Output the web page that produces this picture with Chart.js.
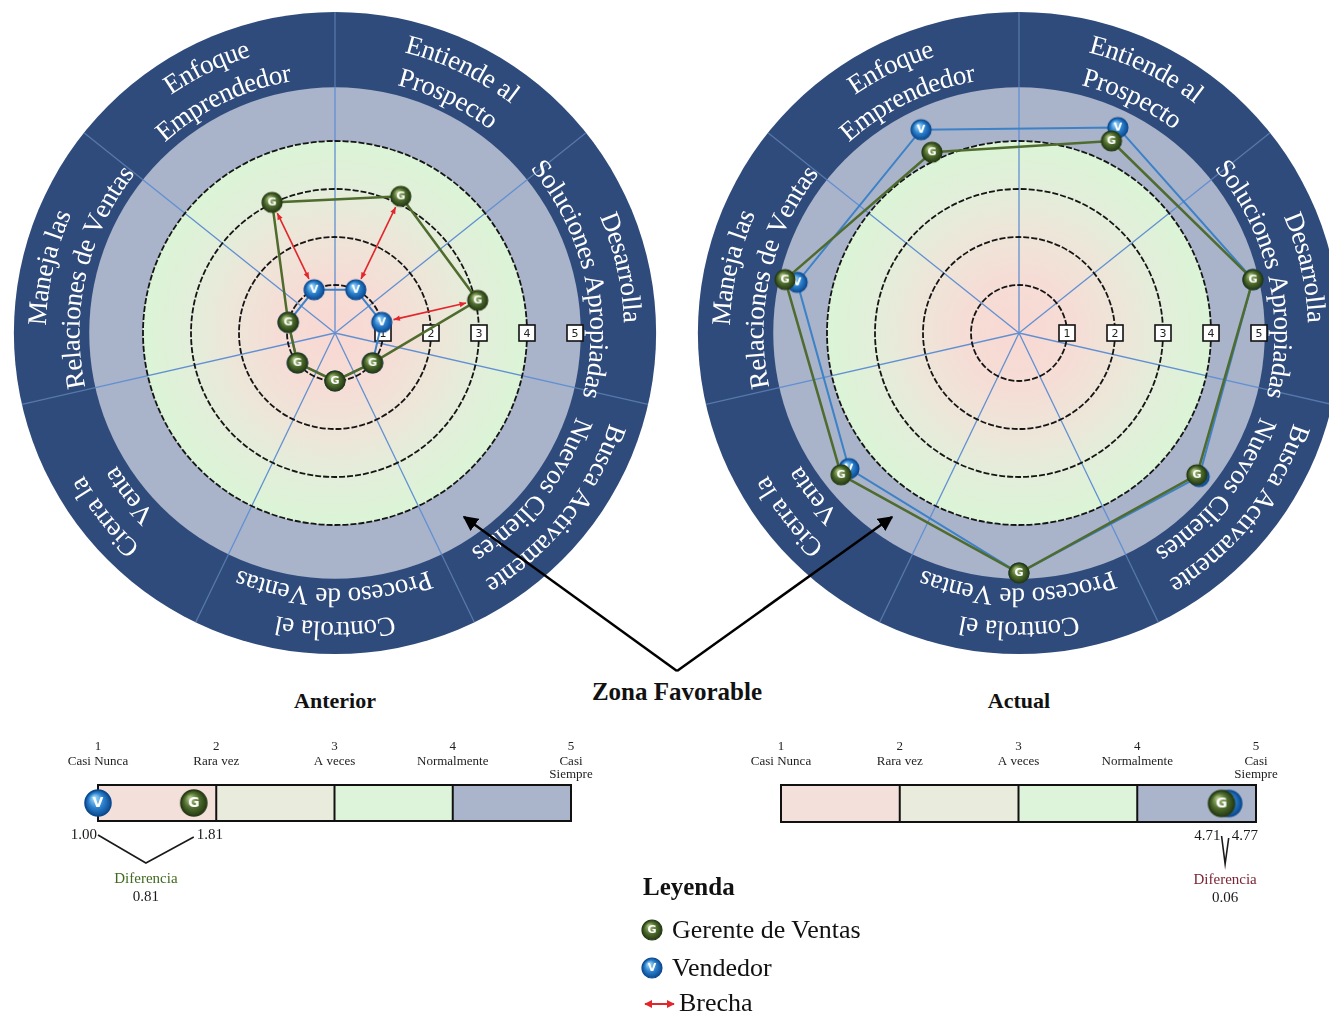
<!DOCTYPE html>
<html lang="es">
<head>
<meta charset="utf-8">
<title>Anterior / Actual</title>
<script src="https://cdn.jsdelivr.net/npm/chart.js@4.4.1/dist/chart.umd.min.js"></script>
<style>
  html, body { margin: 0; padding: 0; background: #fff; }
  body { width: 1329px; height: 1016px; position: relative; overflow: hidden; font-family: "Liberation Serif", serif; color: #111; }
  canvas, .txt, svg { position: absolute; }
  #radarAnterior { left: 0; top: 0; }
  #radarActual { left: 684px; top: 0; }
  #barraAnterior { left: 40px; top: 730px; }
  #barraActual { left: 730px; top: 730px; }
  .txt { white-space: nowrap; transform: translate(-50%, -50%); }
  .negrita { font-weight: bold; }
  .izq { transform: translate(0, -50%); }
  svg { left: 0; top: 0; pointer-events: none; }
</style>
</head>
<body>
<canvas id="radarAnterior" width="670" height="666"></canvas>
<canvas id="radarActual" width="645" height="666"></canvas>
<canvas id="barraAnterior" width="580" height="190"></canvas>
<canvas id="barraActual" width="599" height="190"></canvas>

<div class="txt negrita" style="left:335px; top:701px; font-size:22px;">Anterior</div>
<div class="txt negrita" style="left:1019px; top:701px; font-size:22px;">Actual</div>
<div class="txt negrita" style="left:677px; top:692px; font-size:25px;">Zona Favorable</div>

<div class="txt negrita izq" style="left:643px; top:887px; font-size:25px;">Leyenda</div>
<div class="txt izq" style="left:672px; top:930px; font-size:26px;">Gerente de Ventas</div>
<div class="txt izq" style="left:672px; top:968px; font-size:26px;">Vendedor</div>
<div class="txt izq" style="left:679px; top:1003px; font-size:26px;">Brecha</div>

<svg width="1329" height="1016">
  <defs>
    <marker id="punta" viewBox="0 0 10 10" refX="9" refY="5" markerWidth="6" markerHeight="6" orient="auto">
      <path d="M0,0 L10,5 L0,10 z" fill="#000"/>
    </marker>
    <marker id="puntaRoja" viewBox="0 0 10 10" refX="9" refY="5" markerWidth="4" markerHeight="4" orient="auto-start-reverse">
      <path d="M0,0 L10,5 L0,10 z" fill="#e3262b"/>
    </marker>
  </defs>
  <line x1="677" y1="671" x2="464" y2="517" stroke="#000" stroke-width="2.5" marker-end="url(#punta)"/>
  <line x1="677" y1="671" x2="892" y2="517" stroke="#000" stroke-width="2.5" marker-end="url(#punta)"/>
  <line x1="645" y1="1004" x2="674" y2="1004" stroke="#e3262b" stroke-width="2" marker-start="url(#puntaRoja)" marker-end="url(#puntaRoja)"/>
</svg>

<script>
// competencias, en el orden de las agujas del reloj
const competencias = [
    ['Entiende al', 'Prospecto'],
    ['Desarrolla', 'Soluciones Apropiadas'],
    ['Busca Activamente', 'Nuevos Clientes'],
    ['Controla el', 'Proceso de Ventas'],
    ['Cierra la', 'Venta'],
    ['Maneja las', 'Relaciones de Ventas'],
    ['Enfoque', 'Emprendedor']
];

const gerenteAnterior = [3.16, 3.05, 1.0, 1.0, 1.0, 1.0, 3.02];
const vendedorAnterior = [1.0, 1.0, 1.0, 1.0, 1.0, 1.0, 1.0];
const gerenteActual = [4.44, 5.0, 4.74, 5.0, 4.74, 5.0, 4.18];
const vendedorActual = [4.75, 5.0, 4.8, 5.0, 4.53, 4.74, 4.7];

// promedios mostrados en las barras de abajo
const promedioGerente = [1.81, 4.71];
const promedioVendedor = [1.00, 4.77];

const nivelesEscala = [1, 2, 3, 4, 5];
const nombresNivel = [['Casi Nunca'], ['Rara vez'], ['A veces'], ['Normalmente'], ['Casi', 'Siempre']];

const coloresNivel = ['#f4e0da', '#e9ebdc', '#ddf3da', '#aab4ca'];

function crearMarca(letra, oscuro, medio, claro, r) {
    const c = document.createElement('canvas');
    const t = Math.ceil(r * 2 + 4);
    c.width = t;
    c.height = t;
    const g = c.getContext('2d');
    const m = t / 2;
    const grad = g.createRadialGradient(m - r * 0.3, m - r * 0.4, r * 0.1, m, m, r);
    grad.addColorStop(0, claro);
    grad.addColorStop(0.55, medio);
    grad.addColorStop(1, oscuro);
    g.beginPath();
    g.arc(m, m, r, 0, Math.PI * 2);
    g.fillStyle = grad;
    g.fill();
    g.lineWidth = Math.max(1, r * 0.12);
    g.strokeStyle = oscuro;
    g.stroke();
    g.fillStyle = '#fff';
    g.font = 'bold ' + Math.round(r * 1.1) + 'px "DejaVu Sans"';
    g.textAlign = 'center';
    g.textBaseline = 'middle';
    g.fillText(letra, m, m + r * 0.05);
    return c;
}

function marcaG(r) { return crearMarca('G', '#263a14', '#4f6d2e', '#a7bf7c', r); }
function marcaV(r) { return crearMarca('V', '#0c4a90', '#2a7fcc', '#9ad6f7', r); }

function circulo(ctx, x, y, r, color) {
    ctx.beginPath();
    ctx.arc(x, y, r, 0, Math.PI * 2);
    ctx.fillStyle = color;
    ctx.fill();
}

// escribe el texto sobre un arco, en sentido horario y con la parte de arriba hacia fuera
function textoCurvo(ctx, txt, cx, cy, r, angulo) {
    const total = ctx.measureText(txt).width;
    let a = angulo - total / 2 / r;
    for (const ch of txt) {
        const w = ctx.measureText(ch).width;
        const m = a + w / 2 / r;
        ctx.save();
        ctx.translate(cx + r * Math.sin(m), cy - r * Math.cos(m));
        ctx.rotate(m);
        ctx.fillText(ch, 0, 0);
        ctx.restore();
        a += w / r;
    }
}

function flechaDoble(ctx, x1, y1, x2, y2, recorte, color) {
    const ang = Math.atan2(y2 - y1, x2 - x1);
    const ax = x1 + Math.cos(ang) * recorte, ay = y1 + Math.sin(ang) * recorte;
    const bx = x2 - Math.cos(ang) * recorte, by = y2 - Math.sin(ang) * recorte;
    ctx.save();
    ctx.strokeStyle = color;
    ctx.fillStyle = color;
    ctx.lineWidth = 1.6;
    ctx.beginPath();
    ctx.moveTo(ax, ay);
    ctx.lineTo(bx, by);
    ctx.stroke();
    [[ax, ay, ang + Math.PI], [bx, by, ang]].forEach(function (p) {
        ctx.beginPath();
        ctx.moveTo(p[0], p[1]);
        ctx.lineTo(p[0] - 7 * Math.cos(p[2] - 0.4), p[1] - 7 * Math.sin(p[2] - 0.4));
        ctx.lineTo(p[0] - 7 * Math.cos(p[2] + 0.4), p[1] - 7 * Math.sin(p[2] + 0.4));
        ctx.closePath();
        ctx.fill();
    });
    ctx.restore();
}

const fondoRadar = {
    id: 'fondoRadar',
    beforeDraw(chart) {
        const s = chart.scales.r;
        const ctx = chart.ctx;
        const cx = s.xCenter, cy = s.yCenter;
        const u = s.getDistanceFromCenterForValue(1);
        const rExt = u * 6.69, rInt = u * 5.12, rVerde = s.getDistanceFromCenterForValue(4);
        ctx.save();
        circulo(ctx, cx, cy, rExt, '#2f4b7b');
        circulo(ctx, cx, cy, rInt, '#a9b3ca');
        const grad = ctx.createRadialGradient(cx, cy, 0, cx, cy, rVerde);
        grad.addColorStop(0, '#f9d8d3');
        grad.addColorStop(0.3, '#f5ddd6');
        grad.addColorStop(0.55, '#ede6d9');
        grad.addColorStop(0.78, '#e2efda');
        grad.addColorStop(1, '#dbf4d6');
        circulo(ctx, cx, cy, rVerde, grad);

        // separadores entre competencias
        ctx.lineWidth = 1.3;
        for (let k = 0; k < chart.data.labels.length; k++) {
            const pI = s.getPointPosition(k - 0.5, rInt);
            const pE = s.getPointPosition(k - 0.5, rExt);
            ctx.strokeStyle = '#6190d2';
            ctx.beginPath();
            ctx.moveTo(cx, cy);
            ctx.lineTo(pI.x, pI.y);
            ctx.stroke();
            ctx.strokeStyle = '#5778ab';
            ctx.beginPath();
            ctx.moveTo(pI.x, pI.y);
            ctx.lineTo(pE.x, pE.y);
            ctx.stroke();
        }

        ctx.fillStyle = '#fff';
        ctx.font = '27px "Liberation Serif"';
        ctx.textAlign = 'center';
        ctx.textBaseline = 'middle';
        chart.data.labels.forEach(function (lineas, i) {
            const ang = s.getIndexAngle(i);
            textoCurvo(ctx, lineas[0], cx, cy, u * 6.17, ang);
            textoCurvo(ctx, lineas[1], cx, cy, u * 5.47, ang);
        });
        ctx.restore();
    },
    beforeDatasetsDraw(chart) {
        const s = chart.scales.r;
        const ctx = chart.ctx;
        ctx.save();
        ctx.font = '11px "DejaVu Sans"';
        ctx.textAlign = 'center';
        ctx.textBaseline = 'middle';
        s.ticks.forEach(function (t) {
            if (t.value <= 0) return;
            const x = s.xCenter + s.getDistanceFromCenterForValue(t.value);
            const y = s.yCenter;
            ctx.fillStyle = '#fff';
            ctx.fillRect(x - 8, y - 8, 16, 16);
            ctx.strokeStyle = '#111';
            ctx.lineWidth = 1.6;
            ctx.strokeRect(x - 8, y - 8, 16, 16);
            ctx.fillStyle = '#222';
            ctx.fillText(String(t.value), x, y + 1);
        });
        ctx.restore();
    },
    afterDatasetsDraw(chart) {
        const g = chart.getDatasetMeta(0).data, v = chart.getDatasetMeta(1).data;
        const dg = chart.data.datasets[0].data, dv = chart.data.datasets[1].data;
        dg.forEach(function (val, i) {
            if (Math.abs(val - dv[i]) < 1) return;
            flechaDoble(chart.ctx, g[i].x, g[i].y, v[i].x, v[i].y, 12, '#e3262b');
        });
    }
};

function crearRadar(id, gerente, vendedor, padding) {
    return new Chart(document.getElementById(id), {
        type: 'radar',
        data: {
            labels: competencias,
            datasets: [
                {
                    label: 'Gerente de Ventas',
                    data: gerente,
                    borderColor: '#4f6b2d',
                    borderWidth: 2.5,
                    fill: false,
                    pointStyle: marcaG(10),
                    pointRadius: 10,
                    clip: false
                },
                {
                    label: 'Vendedor',
                    data: vendedor,
                    borderColor: '#3d82c7',
                    borderWidth: 2,
                    fill: false,
                    pointStyle: marcaV(10),
                    pointRadius: 10,
                    clip: false
                }
            ]
        },
        options: {
            responsive: false,
            animation: false,
            layout: { padding: padding },
            elements: { line: { tension: 0 } },
            plugins: { legend: { display: false }, tooltip: { enabled: false } },
            scales: {
                r: {
                    min: 0,
                    max: 5,
                    startAngle: 360 / 14,
                    ticks: { display: false, stepSize: 1 },
                    grid: {
                        circular: true,
                        lineWidth: 1.8,
                        color: function (c) { return c.tick && c.tick.value >= 5 ? 'rgba(0,0,0,0)' : '#151515'; }
                    },
                    border: { dash: [6, 2] },
                    angleLines: { display: false },
                    pointLabels: { display: false }
                }
            }
        },
        plugins: [fondoRadar]
    });
}

const barraEscala = {
    id: 'barraEscala',
    beforeDatasetsDraw(chart) {
        const x = chart.scales.x;
        const a = chart.chartArea;
        const ctx = chart.ctx;
        ctx.save();
        for (let k = 0; k < nivelesEscala.length - 1; k++) {
            const x0 = x.getPixelForValue(nivelesEscala[k]);
            const x1 = x.getPixelForValue(nivelesEscala[k + 1]);
            ctx.fillStyle = coloresNivel[k];
            ctx.fillRect(x0, a.top, x1 - x0, a.bottom - a.top);
        }
        ctx.strokeStyle = '#111';
        ctx.lineWidth = 2;
        ctx.strokeRect(a.left, a.top, a.right - a.left, a.bottom - a.top);
        for (let k = 1; k < nivelesEscala.length - 1; k++) {
            const xp = x.getPixelForValue(nivelesEscala[k]);
            ctx.beginPath();
            ctx.moveTo(xp, a.top);
            ctx.lineTo(xp, a.bottom);
            ctx.stroke();
        }
        ctx.fillStyle = '#222';
        ctx.textAlign = 'center';
        ctx.textBaseline = 'middle';
        nivelesEscala.forEach(function (n, k) {
            const xp = x.getPixelForValue(n);
            ctx.font = '13px "Liberation Serif"';
            ctx.fillText(String(n), xp, a.top - 38);
            nombresNivel[k].forEach(function (t, j) {
                ctx.fillText(t, xp, a.top - 23 + j * 13);
            });
        });
        ctx.restore();
    },
    afterDatasetsDraw(chart) {
        const a = chart.chartArea;
        const ctx = chart.ctx;
        const vg = chart.data.datasets[0].data[0].x;
        const vv = chart.data.datasets[1].data[0].x;
        const pg = chart.getDatasetMeta(0).data[0].x;
        const pv = chart.getDatasetMeta(1).data[0].x;
        const bajo = vg < vv ? { v: vg, x: pg } : { v: vv, x: pv };
        const alto = vg < vv ? { v: vv, x: pv } : { v: vg, x: pg };
        const medio = (bajo.x + alto.x) / 2;
        ctx.save();
        ctx.fillStyle = '#1a1a1a';
        ctx.font = '15px "Liberation Serif"';
        ctx.textBaseline = 'middle';
        ctx.textAlign = 'right';
        ctx.fillText(bajo.v.toFixed(2), bajo.x - 1, a.bottom + 14);
        ctx.textAlign = 'left';
        ctx.fillText(alto.v.toFixed(2), alto.x + 3, a.bottom + 14);
        ctx.strokeStyle = '#1a1a1a';
        ctx.lineWidth = 1.6;
        ctx.beginPath();
        ctx.moveTo(bajo.x, a.bottom + 14);
        ctx.lineTo(medio, a.bottom + 42);
        ctx.lineTo(alto.x, a.bottom + 16);
        ctx.stroke();
        ctx.textAlign = 'center';
        ctx.fillStyle = vg >= vv ? '#3f6a1e' : '#7a2434';
        ctx.fillText('Diferencia', medio, a.bottom + 58);
        ctx.fillStyle = '#1a1a1a';
        ctx.fillText(Math.abs(vg - vv).toFixed(2), medio, a.bottom + 76);
        ctx.restore();
    }
};

function crearBarra(id, gerente, vendedor, padding) {
    return new Chart(document.getElementById(id), {
        type: 'scatter',
        data: {
            datasets: [
                { label: 'Gerente de Ventas', data: [{ x: gerente, y: 0.5 }], pointStyle: marcaG(13), pointRadius: 13, clip: false },
                { label: 'Vendedor', data: [{ x: vendedor, y: 0.5 }], pointStyle: marcaV(13), pointRadius: 13, clip: false }
            ]
        },
        options: {
            responsive: false,
            animation: false,
            layout: { padding: padding },
            plugins: { legend: { display: false }, tooltip: { enabled: false } },
            scales: {
                x: { type: 'linear', min: 1, max: 5, display: false },
                y: { min: 0, max: 1, display: false }
            }
        },
        plugins: [barraEscala]
    });
}

crearRadar('radarAnterior', gerenteAnterior, vendedorAnterior, { left: 95, right: 95, top: 93, bottom: 93 });
crearRadar('radarActual', gerenteActual, vendedorActual, { left: 95, right: 70, top: 93, bottom: 93 });
crearBarra('barraAnterior', promedioGerente[0], promedioVendedor[0], { left: 58, right: 49, top: 55, bottom: 99 });
crearBarra('barraActual', promedioGerente[1], promedioVendedor[1], { left: 51, right: 73, top: 55, bottom: 98 });

// iconos de la leyenda
[[marcaG(10), 930], [marcaV(10), 968]].forEach(function (p) {
    const c = p[0];
    c.style.left = (652 - c.width / 2) + 'px';
    c.style.top = (p[1] - c.height / 2) + 'px';
    document.body.appendChild(c);
});
</script>
</body>
</html>
